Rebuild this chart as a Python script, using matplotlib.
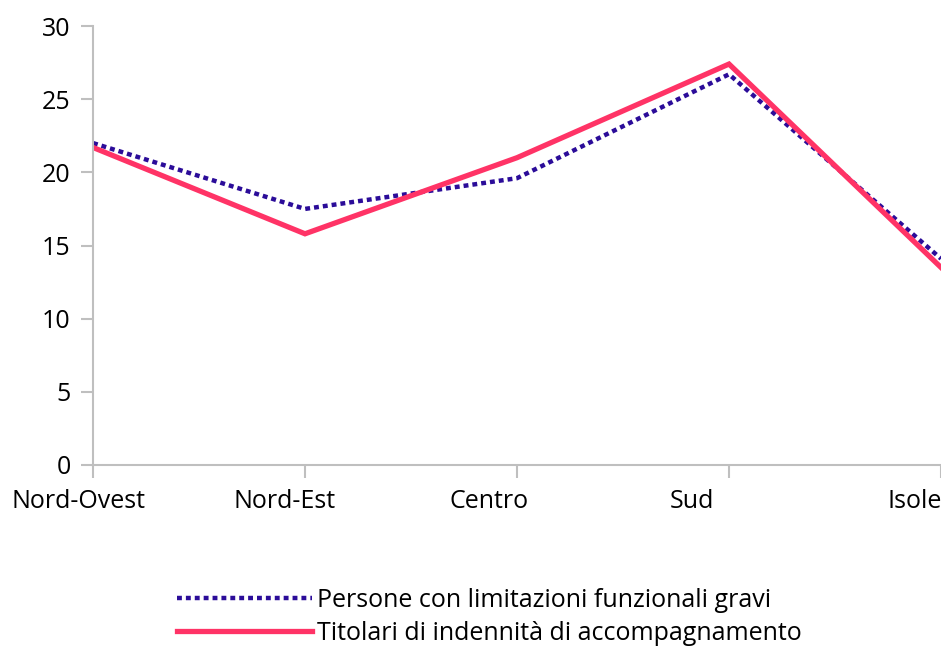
import matplotlib.pyplot as plt
import matplotlib.transforms as mtransforms
import numpy as np

areas = ["Nord-Ovest", "Nord-Est", "Centro", "Sud", "Isole"]
limitazioni = [22.0, 17.5, 19.6, 26.7, 14.1]
indennita = [21.7, 15.8, 21.0, 27.4, 13.5]
label_lim = "Persone con limitazioni funzionali gravi"
label_ind = "Titolari di indennità di accompagnamento"

plt.rcParams['font.family'] = ['Open Sans', 'DejaVu Sans']

W, H = 941, 646
fig = plt.figure(figsize=(W / 100, H / 100), dpi=100)
ax = fig.add_axes([93 / W, (H - 465) / H, (W - 93) / W, (465 - 26) / H])

x = np.arange(len(areas))
ax.plot(x, limitazioni, color='#2B0C99', lw=3.2, linestyle=(0, (1.1, 0.9)),
        label=label_lim, solid_capstyle='butt', dash_capstyle='butt')
ax.plot(x, indennita, color='#FF3366', lw=3.8, label=label_ind,
        solid_joinstyle='miter')

ax.set_xlim(0, (W - 93) / 213)
ax.set_ylim(0, 30)
ax.set_yticks(range(0, 31, 5))
ax.set_xticks(x)
ax.set_xticklabels(areas)

for s in ['top', 'right']:
    ax.spines[s].set_visible(False)
for s in ['left', 'bottom']:
    ax.spines[s].set_color('#BFBFBF')
    ax.spines[s].set_linewidth(1.5)
ax.tick_params(axis='both', colors='#BFBFBF', width=1.5, length=9,
               labelcolor='black', labelsize=18)
ax.tick_params(axis='y', pad=7)
ax.tick_params(axis='x', pad=8)

# excel pushes category labels slightly left of their ticks
shifts = [-15, -20, -28, -37, -26]
for lbl, dx in zip(ax.get_xticklabels(), shifts):
    lbl.set_transform(lbl.get_transform() + mtransforms.ScaledTranslation(dx / 100, 0, fig.dpi_scale_trans))

leg = fig.legend(loc='upper left', bbox_to_anchor=(167 / W, 1 - 578 / H),
                 frameon=False, fontsize=18, handlelength=5.4,
                 handletextpad=0.2, labelspacing=0.3, borderaxespad=0)

fig.savefig("out.png", dpi=100)
